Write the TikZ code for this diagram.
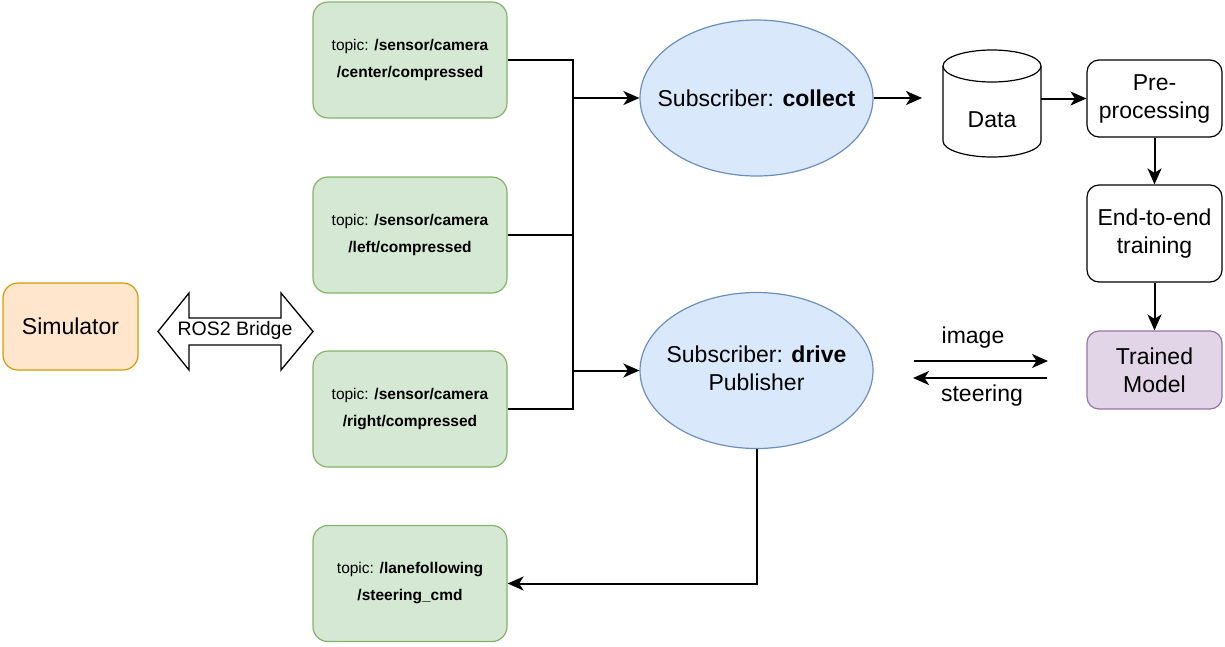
\documentclass[tikz,border=0pt]{standalone}
\usepackage{fontspec}
\setmainfont{Liberation Sans}
\usetikzlibrary{shapes.geometric,arrows.meta}
\definecolor{topicfill}{HTML}{D5E8D4}
\definecolor{topicdraw}{HTML}{82B366}
\definecolor{simfill}{HTML}{FFE6CC}
\definecolor{simdraw}{HTML}{D79B00}
\definecolor{ellfill}{HTML}{DAE8FC}
\definecolor{elldraw}{HTML}{6C8EBF}
\definecolor{modfill}{HTML}{E1D5E7}
\definecolor{moddraw}{HTML}{9673A6}
\begin{document}
\begin{tikzpicture}[x=1pt,y=-1pt,
  bigfont/.style={font=\fontsize{23}{28}\selectfont},
  topicbox/.style={draw=topicdraw,fill=topicfill,rounded corners=15pt,line width=1.2pt,
    minimum width=194pt,minimum height=116pt,inner sep=0pt,align=center,
    font=\fontsize{15.5}{27}\selectfont},
  simbox/.style={draw=simdraw,fill=simfill,rounded corners=15pt,line width=1.2pt,
    minimum width=135pt,minimum height=87pt,inner sep=0pt,align=center,bigfont},
  procbox/.style={draw=black,fill=white,rounded corners=12pt,line width=1.2pt,
    minimum width=135pt,inner sep=0pt,align=center,bigfont},
  modbox/.style={procbox,draw=moddraw,fill=modfill},
  ellnode/.style={ellipse,draw=elldraw,fill=ellfill,line width=1.2pt,
    minimum width=233pt,minimum height=156pt,inner sep=0pt},
  conn/.style={draw=black,line width=2pt},
  arr/.style={draw=black,line width=2pt,-{Stealth[length=16pt,width=14pt,inset=4.5pt]}},
  plain/.style={inner sep=0pt,align=center,bigfont}
]
\useasboundingbox (0,0) rectangle (1225,646);

% Simulator and bridge
\node[simbox] (sim) at (70.5,326.5) {Simulator};
\draw[fill=white,line width=1.3pt,line join=miter]
  (158,331.5) -- (189,293) -- (189,318) -- (281,318) -- (281,293) -- (313,331.5)
  -- (281,370) -- (281,345) -- (189,345) -- (189,370) -- cycle;
\node[inner sep=0pt,font=\fontsize{19.5}{22}\selectfont] (bridge) at (235,330) {ROS2 Bridge};

% Topics
\node[topicbox] (topic1) at (410,60) {topic: \textbf{/sensor/camera}\\\textbf{/center/compressed}};
\node[topicbox] (topic2) at (410,235) {topic: \textbf{/sensor/camera}\\\textbf{/left/compressed}};
\node[topicbox] (topic3) at (410,409) {topic: \textbf{/sensor/camera}\\\textbf{/right/compressed}};
\node[topicbox] (topic4) at (410,583.5) {topic: \textbf{/lanefollowing}\\\textbf{/steering\_cmd}};

% Ellipses
\node[ellnode] (collect) at (756.5,98) {};
\node[plain] (collecttxt) at (756.5,98) {Subscriber: \textbf{collect}};
\node[ellnode] (drive) at (756.5,370.5) {};
\node[plain] (drivetxt) at (756.5,368) {Subscriber: \textbf{drive}\\Publisher};

% Bus
\coordinate (busTop) at (573,60);
\coordinate (busBot) at (573,409);
\draw[conn] (topic1.east) -| (busBot) -- (topic3.east);
\draw[conn] (topic2.east) -- (topic2.east -| busTop);
\draw[arr] (busTop |- collect.west) -- (collect.west);
\draw[arr] (busTop |- drive.west) -- (drive.west);

% Data cylinder
\draw[fill=white,line width=1.2pt] (943,66) -- (943,141)
  arc[start angle=180,end angle=360,x radius=49pt,y radius=16pt] -- (1041,66);
\draw[fill=white,line width=1.2pt] (992,66) ellipse [x radius=49pt,y radius=16pt];
\node[minimum width=98pt,minimum height=107pt,inner sep=0pt] (data) at (992,103.5) {};
\node[plain] (datatext) at (992,120) {Data};

% Right column
\node[procbox,minimum height=77pt] (pre) at (1154.5,98.5) {Pre-\\processing};
\node[procbox,minimum height=97pt] (e2e) at (1154.5,233.5) {End-to-end\\training};
\node[modbox,minimum height=78pt] (model) at (1154.5,370) {Trained\\Model};

\coordinate (dataIn) at (922,98);
\draw[arr] (collect.east) -- (dataIn);
\draw[arr] (data.east |- pre.west) -- (pre.west);
\draw[arr] (pre.south) -- (e2e.north);
\draw[arr] (e2e.south) -- (model.north);

% image / steering
\coordinate (imgA) at (914,361);
\coordinate (imgB) at (1048,361);
\coordinate (stA) at (1047,378);
\coordinate (stB) at (913,378);
\draw[arr] (imgA) -- (imgB);
\draw[arr] (stA) -- (stB);
\node[plain] (imglabel) at (973,338) {image};
\node[plain] (stlabel) at (982,396) {steering};

% drive -> steering cmd
\draw[arr] (drive.south) |- (topic4.east);
\end{tikzpicture}
\end{document}
